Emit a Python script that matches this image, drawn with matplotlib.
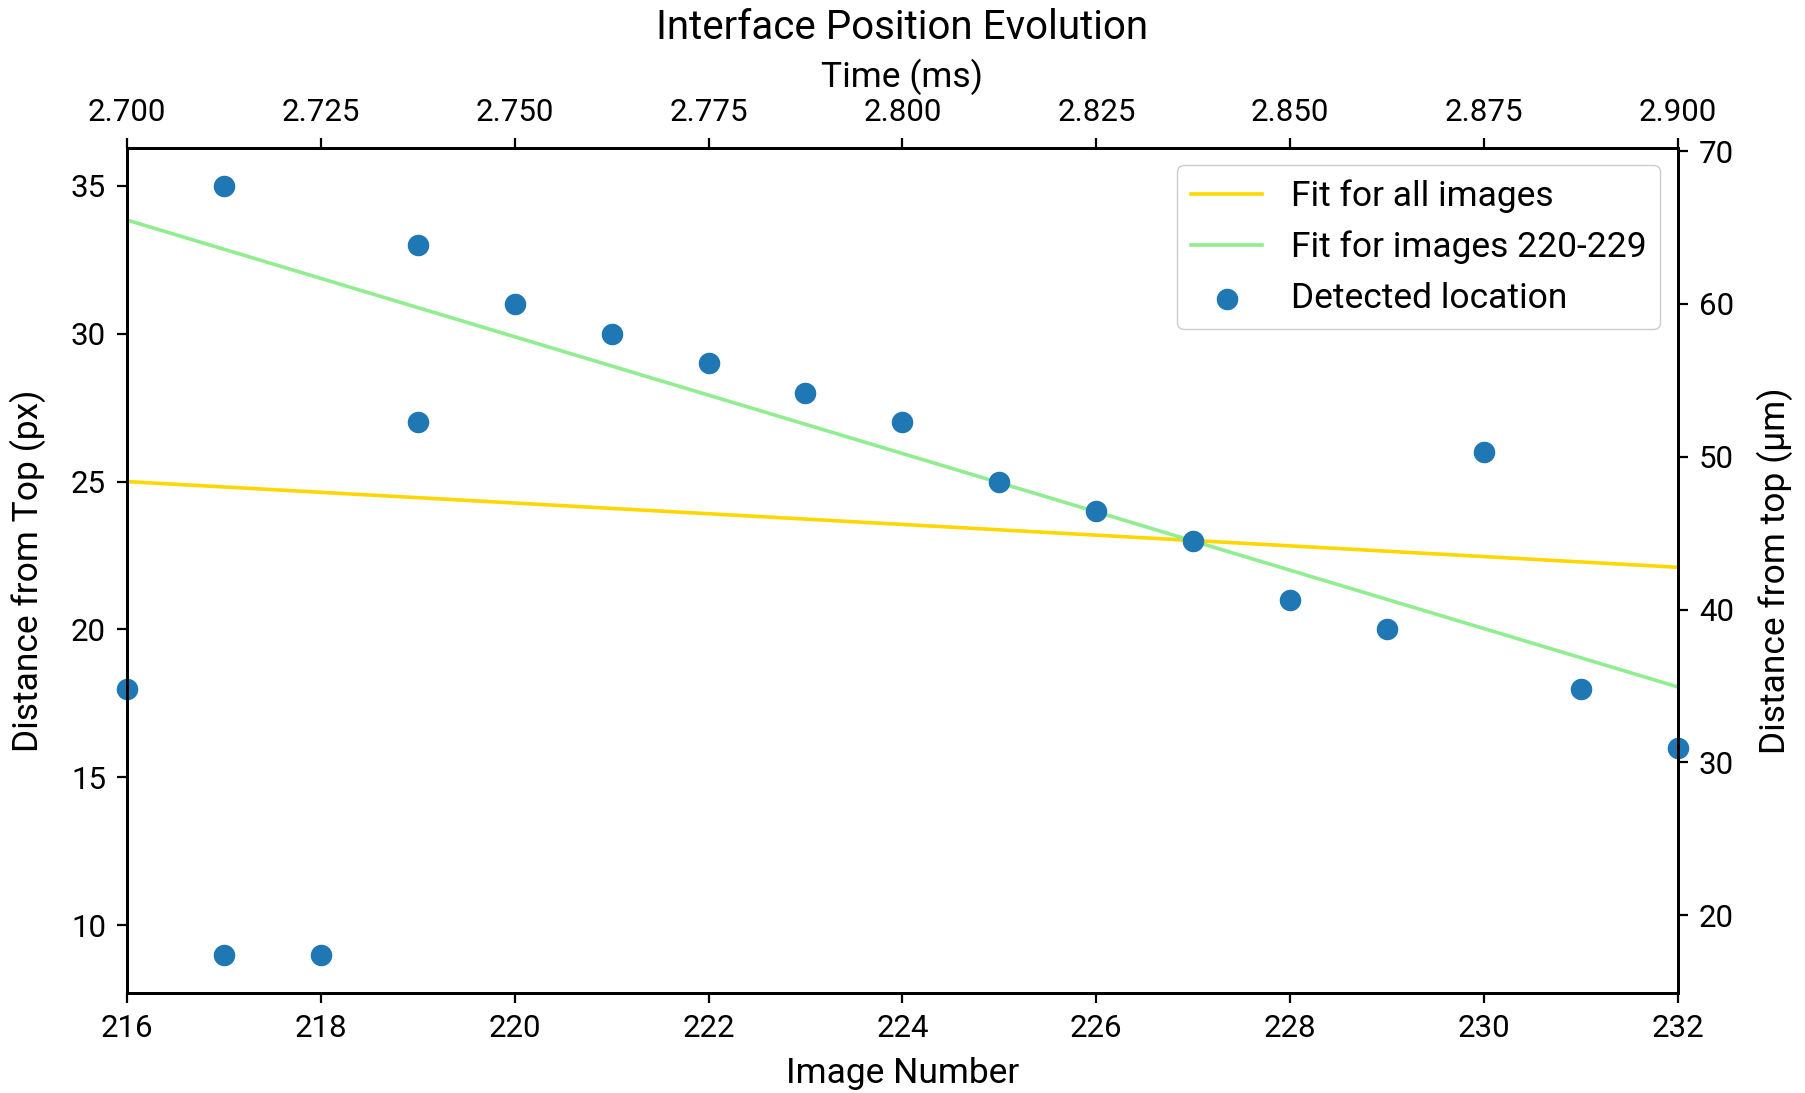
import matplotlib
matplotlib.use("Agg")
import matplotlib.pyplot as plt
import numpy as np

plt.rcParams['font.family'] = ['Roboto', 'DejaVu Sans']

# Data
image_number = [216, 217, 217, 218, 219, 219, 220, 221, 222, 223, 224, 225, 226, 227, 228, 229, 230, 231, 232]
distance_px = [18, 35, 9, 9, 33, 27, 31, 30, 29, 28, 27, 25, 24, 23, 21, 20, 26, 18, 16]

fit_x = [216, 232]
fit_all_y = [25.0, 22.1]
fit_220_229_y = [33.85, 18.05]

x_limits = [216, 232]
time_limits_ms = [2.700, 2.900]
time_ticks = [2.700, 2.725, 2.750, 2.775, 2.800, 2.825, 2.850, 2.875, 2.900]
um_per_px = 1.935

tfs = 22.5
lfs = 25.5
fig = plt.figure(figsize=(18.06, 10.93), dpi=100)
ax = fig.add_axes([0.0702, 0.0915, 0.859, 0.7735])

l1, = ax.plot(fit_x, fit_all_y, color='gold', lw=2.6, label='Fit for all images')
l2, = ax.plot(fit_x, fit_220_229_y, color='lightgreen', lw=2.6, label='Fit for images 220-229')
sc = ax.scatter(image_number, distance_px, s=210, color='#1f77b4', label='Detected location', zorder=3, clip_on=False)

ax.set_xlim(x_limits)
ax.set_xticks(np.arange(216, 233, 2))
ax.set_xlabel('Image Number', fontsize=lfs, labelpad=10)
ax.set_ylabel('Distance from Top (px)', fontsize=lfs, labelpad=18)
ax.tick_params(labelsize=tfs, length=7, width=1.6, pad=8)
ylo, yhi = ax.get_ylim()

ax_top = ax.twiny()
ax_top.set_xlim(time_limits_ms)
ax_top.set_xticks(time_ticks)
ax_top.set_xticklabels([f'{t:.3f}' for t in time_ticks])
ax_top.set_xlabel('Time (ms)', fontsize=lfs, labelpad=8)
ax_top.tick_params(labelsize=tfs, length=7, width=1.6, pad=8)

ax_right = ax.twinx()
ax_right.set_ylim(ylo * um_per_px, yhi * um_per_px)
ax_right.set_ylabel('Distance from top (µm)', fontsize=lfs, labelpad=16)
ax_right.tick_params(labelsize=tfs, length=7, width=1.6, pad=8)

for a in (ax, ax_top, ax_right):
    for s in a.spines.values():
        s.set_linewidth(2.0)

ax_top.set_title('Interface Position Evolution', fontsize=29, pad=14)

leg = ax_right.legend(handles=[l1, l2, sc], loc='upper right', fontsize=lfs, framealpha=1.0,
                      borderaxespad=0.5)

fig.savefig('out.png', dpi=100)
